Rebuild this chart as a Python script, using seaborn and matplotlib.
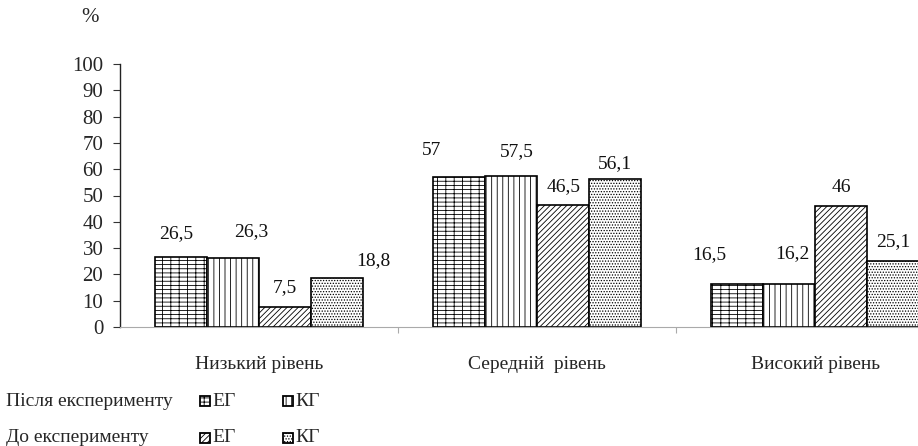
import matplotlib
matplotlib.use('Agg')
import matplotlib.pyplot as plt
import matplotlib.patches as mpatches
import seaborn as sns
import pandas as pd

# Дані з діаграми (%)
categories = ['Низький рівень', 'Середній  рівень', 'Високий рівень']
series = ['Після ЕГ', 'Після КГ', 'До ЕГ', 'До КГ']
after_eg = [26.5, 57, 16.5]
after_kg = [26.3, 57.5, 16.2]
before_eg = [7.5, 46.5, 46]
before_kg = [18.8, 56.1, 25.1]
yticks = list(range(0, 101, 10))

# Стилі: штрихування та зсуви підписів (px)
hatches = ['----||', '|||', '//////', '......']
label_offsets = [
    [(-5, 24), (-27, 27), (-28, 29)],
    [(18, 26), (6, 24), (3, 31)],
    [(0, 20), (0, 18), (0, 19)],
    [(36, 17), (0, 16), (0, 19)],
]

df = pd.DataFrame({
    'category': categories * 4,
    'series': [s for s in series for _ in categories],
    'value': after_eg + after_kg + before_eg + before_kg,
})

sns.set_theme(style='white')
plt.rcParams['font.family'] = ['Liberation Serif', 'DejaVu Serif']
plt.rcParams['hatch.linewidth'] = 0.6

fig = plt.figure(figsize=(9.18, 4.46), dpi=100)
ax = fig.add_axes([120 / 918, (446 - 327) / 446, 1 - 120 / 918, (327 - 64) / 446])

sns.barplot(data=df, x='category', y='value', hue='series', order=categories,
            hue_order=series, palette=['white'] * 4, width=0.75, gap=0,
            edgecolor='black', linewidth=1.2, legend=False, ax=ax)

for i, cont in enumerate(ax.containers):
    for j, bar in enumerate(cont):
        bar.set_hatch(hatches[i])
        v = bar.get_height()
        dx, dy = label_offsets[i][j]
        ax.annotate(f'{v:g}'.replace('.', ','),
                    (bar.get_x() + bar.get_width() / 2, v),
                    xytext=(dx * 0.72, dy * 0.72), textcoords='offset points',
                    ha='center', va='center', fontsize=14, color='#111111')

ax.set_xlim(-0.5, 2.37)
ax.set_ylim(0, 100)
ax.set_yticks(yticks)
ax.set_yticklabels([str(t) for t in yticks], fontsize=15)
ax.tick_params(axis='y', left=True, length=5, width=0.8, pad=7, color='#333333')

ax.set_xticks([0.5, 1.5])
ax.set_xticklabels([])
ax.set_xticks([0, 1, 2], minor=True)
ax.set_xticklabels(categories, minor=True, fontsize=14)
ax.tick_params(axis='x', which='major', bottom=True, length=4, width=0.8, color='#aaaaaa')
ax.tick_params(axis='x', which='minor', bottom=False, length=0, pad=21)
ax.set_xlabel('')
ax.set_ylabel('')

sns.despine(ax=ax, top=True, right=True)
ax.spines['left'].set_color('#222222')
ax.spines['left'].set_linewidth(1.0)
ax.spines['bottom'].set_color('#aaaaaa')
ax.spines['bottom'].set_linewidth(0.8)

fig.text(90 / 918, 1 - 17 / 446, '%', fontsize=15, ha='center', va='center')

# Легенда вручну
rows = [('Після експерименту', 401, hatches[0], hatches[1]),
        ('До експерименту', 438, hatches[2], hatches[3])]
for text, y, h1, h2 in rows:
    yf = 1 - y / 446
    fig.text(6 / 918, yf, text, fontsize=14, ha='left', va='center')
    for x0, h, lab in [(200, h1, 'ЕГ'), (283, h2, 'КГ')]:
        fig.patches.append(mpatches.Rectangle((x0 / 918, yf - 5 / 446), 10 / 918, 10 / 446,
                                              transform=fig.transFigure, facecolor='white',
                                              edgecolor='black', linewidth=1.3, hatch=h))
        fig.text((x0 + 12) / 918, yf, lab, fontsize=14, ha='left', va='center')

fig.savefig('out.png', dpi=100)
